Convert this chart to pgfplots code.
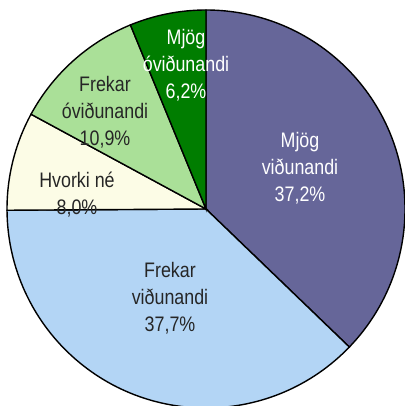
\documentclass[border=0pt]{standalone}
\usepackage{pgfplots}
\pgfplotsset{compat=1.18}
\usepackage{fontspec}
\setmainfont{Liberation Sans}[FakeStretch=0.85]
\definecolor{cpurp}{RGB}{102,102,153}
\definecolor{clblue}{RGB}{179,213,245}
\definecolor{clyel}{RGB}{252,252,230}
\definecolor{clgreen}{RGB}{170,224,152}
\definecolor{cdgreen}{RGB}{0,125,0}
\begin{document}
\begin{tikzpicture}
\begin{axis}[at={(0,0)}, anchor=south west, scale only axis,
  width=405bp, height=406bp, xmin=0, xmax=405, ymin=0, ymax=406,
  hide axis, clip=false]
% shares (%): 37.2, 37.7, 8.0, 10.9, 6.2 ; start at 90 deg, clockwise
\filldraw[fill=cpurp, line width=1.4bp] (axis cs:206,197) -- ++(90:199bp)
  arc[start angle=90, end angle={90-3.6*37.2}, radius=199bp] -- cycle;
\filldraw[fill=clblue, line width=1.4bp] (axis cs:206,197) -- ++({90-3.6*37.2}:199bp)
  arc[start angle={90-3.6*37.2}, end angle={90-3.6*(37.2+37.7)}, radius=199bp] -- cycle;
\filldraw[fill=clyel, line width=1.4bp] (axis cs:206,197) -- ++({90-3.6*(37.2+37.7)}:199bp)
  arc[start angle={90-3.6*(37.2+37.7)}, end angle={90-3.6*(37.2+37.7+8.0)}, radius=199bp] -- cycle;
\filldraw[fill=clgreen, line width=1.4bp] (axis cs:206,197) -- ++({90-3.6*(37.2+37.7+8.0)}:199bp)
  arc[start angle={90-3.6*(37.2+37.7+8.0)}, end angle={90-3.6*(37.2+37.7+8.0+10.9)}, radius=199bp] -- cycle;
\filldraw[fill=cdgreen, line width=1.4bp] (axis cs:206,197) -- ++({90-3.6*(37.2+37.7+8.0+10.9)}:199bp)
  arc[start angle={90-3.6*(37.2+37.7+8.0+10.9)}, end angle={90-3.6*(37.2+37.7+8.0+10.9+6.2)}, radius=199bp] -- cycle;
\tikzset{lab/.style={align=center, inner sep=0pt, font=\fontsize{21bp}{27bp}\selectfont}}
\node[lab, text=white] at (axis cs:300,238) {Mjög\\viðunandi\\37,2\%};
\node[lab, text=black!85] at (axis cs:170,108) {Frekar\\viðunandi\\37,7\%};
\node[lab, text=black!85] at (axis cs:77,211.5) {Hvorki né\\8,0\%};
\node[lab, text=black!85] at (axis cs:105,294) {Frekar\\óviðunandi\\10,9\%};
\node[lab, text=white] at (axis cs:186,341) {Mjög\\óviðunandi\\6,2\%};
\end{axis}
\pgfresetboundingbox
\path[use as bounding box] (0,0) rectangle (405bp,406bp);
\end{tikzpicture}
\end{document}
